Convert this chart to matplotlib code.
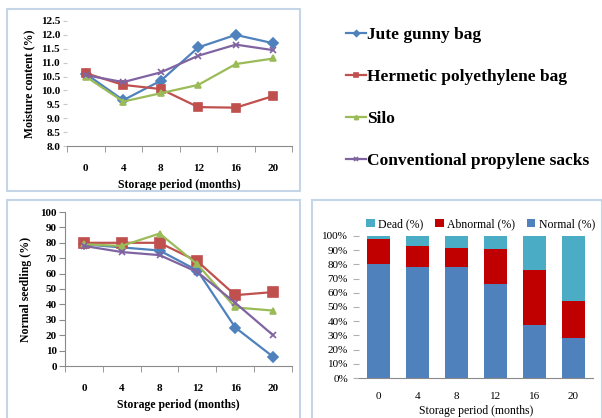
import numpy as np
import matplotlib.pyplot as plt
from matplotlib.patches import Rectangle

plt.rcParams['font.family'] = ['Liberation Serif', 'DejaVu Serif']

months = ['0', '4', '8', '12', '16', '20']

# moisture content (%)
mc_jute = [10.6, 9.65, 10.35, 11.55, 12.0, 11.7]
mc_hermetic = [10.62, 10.2, 10.05, 9.4, 9.38, 9.8]
mc_silo = [10.5, 9.6, 9.9, 10.2, 10.95, 11.15]
mc_conv = [10.55, 10.3, 10.65, 11.25, 11.65, 11.45]

# normal seedling (%)
ns_jute = [79, 77, 75, 62, 25, 6]
ns_hermetic = [80, 80, 80, 68, 46, 48]
ns_silo = [79, 78, 86, 66, 38, 36]
ns_conv = [78, 74, 72, 61, 41, 20]

# germination classes (%)
normal = [80, 78, 78, 66, 37, 28]
abnormal = [18, 15, 13.5, 24.5, 39, 26]
dead = [2, 7, 8.5, 9.5, 24, 46]

names = ['Jute gunny bag', 'Hermetic polyethylene bag', 'Silo',
         'Conventional propylene sacks']
colors = ['#4F81BD', '#C0504D', '#9BBB59', '#8064A2']
markers = ['D', 's', '^', 'x']

fig = plt.figure(figsize=(6.02, 4.18), dpi=100)
W, H = 602.0, 418.0


def px_axes(x0, y0, x1, y1):
    return fig.add_axes([x0 / W, 1 - y1 / H, (x1 - x0) / W, (y1 - y0) / H])


def px_box(x0, y0, x1, y1):
    fig.patches.append(Rectangle((x0 / W, 1 - y1 / H), (x1 - x0) / W, (y1 - y0) / H,
                                 transform=fig.transFigure, fill=False,
                                 edgecolor='#C5D5E8', lw=1.5))


px_box(7, 9, 300, 191)
px_box(7, 200, 300, 420)
px_box(312, 200, 602, 420)

x = np.arange(len(months))
grey = '#8A8A8A'


def category_axis(ax):
    ax.set_xlim(-0.5, len(months) - 0.5)
    ax.set_xticks(x)
    ax.set_xticklabels(months, fontsize=8, fontweight='bold')
    ax.set_xticks(np.arange(-0.5, len(months)), minor=True)
    ax.tick_params(axis='x', which='major', length=0, pad=13)
    ax.tick_params(axis='x', which='minor', length=4, color=grey, direction='out')
    for s in ['top', 'right']:
        ax.spines[s].set_visible(False)
    ax.spines['bottom'].set_color(grey)


# moisture content
ax1 = px_axes(67, 21, 292, 146)
lines = []
for y, c, m, n in zip([mc_jute, mc_hermetic, mc_silo, mc_conv], colors, markers, names):
    ms = 5 if m != 's' else 6
    ln, = ax1.plot(x, y, color=c, marker=m, ms=ms, lw=1.6, mew=1.2, label=n)
    lines.append(ln)
category_axis(ax1)
ax1.set_ylim(8.0, 12.5)
ax1.set_yticks(np.arange(8.0, 12.51, 0.5))
ax1.set_yticklabels(['%.1f' % v for v in np.arange(8.0, 12.51, 0.5)],
                    fontsize=8, fontweight='bold')
ax1.spines['left'].set_visible(False)
ax1.tick_params(axis='y', length=3, color='#C8C8C8', pad=2)
ax1.set_xlabel('Storage period (months)', fontsize=8.5, fontweight='bold', labelpad=4)
ax1.set_ylabel('Moisture content (%)', fontsize=8.5, fontweight='bold', labelpad=4)

fig.legend(handles=lines, loc='upper left', bbox_to_anchor=(330 / W, 1 - 11 / H),
           frameon=False, prop={'family': 'Liberation Serif', 'weight': 'bold', 'size': 12.5},
           handlelength=1.15, handletextpad=0.1, labelspacing=1.5, markerscale=0.6)

# normal seedling
ax2 = px_axes(65, 212, 292, 366)
for y, c, m in zip([ns_jute, ns_hermetic, ns_silo, ns_conv], colors, markers):
    ms = 5 if m != 's' else 7
    ax2.plot(x, y, color=c, marker=m, ms=ms, lw=1.6, mew=1.2)
category_axis(ax2)
ax2.set_ylim(0, 100)
ax2.set_yticks(range(0, 101, 10))
ax2.set_yticklabels([str(v) for v in range(0, 101, 10)], fontsize=8, fontweight='bold')
ax2.spines['left'].set_color(grey)
ax2.tick_params(axis='y', length=4, color=grey, pad=2)
ax2.set_xlabel('Storage period (months)', fontsize=8.5, fontweight='bold', labelpad=4)
ax2.set_ylabel('Normal seedling (%)', fontsize=8.5, fontweight='bold', labelpad=6)

# stacked germination classes
ax3 = px_axes(359, 236, 593, 378)
tot = np.array(normal) + np.array(abnormal) + np.array(dead)
p_norm = 100 * np.array(normal) / tot
p_abn = 100 * np.array(abnormal) / tot
p_dead = 100 * np.array(dead) / tot
bw = 0.57
b3 = ax3.bar(x, p_dead, bw, bottom=p_norm + p_abn, color='#4BACC6', label='Dead (%)')
b2 = ax3.bar(x, p_abn, bw, bottom=p_norm, color='#C00000', label='Abnormal (%)')
b1 = ax3.bar(x, p_norm, bw, color='#4F81BD', label='Normal (%)')
ax3.set_xlim(-0.5, len(months) - 0.5)
ax3.set_ylim(0, 100)
ax3.set_xticks(x)
ax3.set_xticklabels(months, fontsize=8)
ax3.tick_params(axis='x', length=0, pad=10)
ax3.set_yticks(range(0, 101, 10))
ax3.set_yticklabels(['%d%%' % v for v in range(0, 101, 10)], fontsize=8)
ax3.tick_params(axis='y', length=4, color='#B0B0B0', pad=4)
for s in ['top', 'right', 'left']:
    ax3.spines[s].set_visible(False)
ax3.spines['bottom'].set_color(grey)
ax3.set_xlabel('Storage period (months)', fontsize=8.5, labelpad=3)
ax3.legend(handles=[b3, b2, b1], loc='lower center', bbox_to_anchor=(0.52, 1.0),
           ncol=3, frameon=False, fontsize=8.5, handlelength=0.7, handleheight=0.7,
           handletextpad=0.3, columnspacing=1.0, borderaxespad=0.1)

fig.savefig('out.png', dpi=100)
